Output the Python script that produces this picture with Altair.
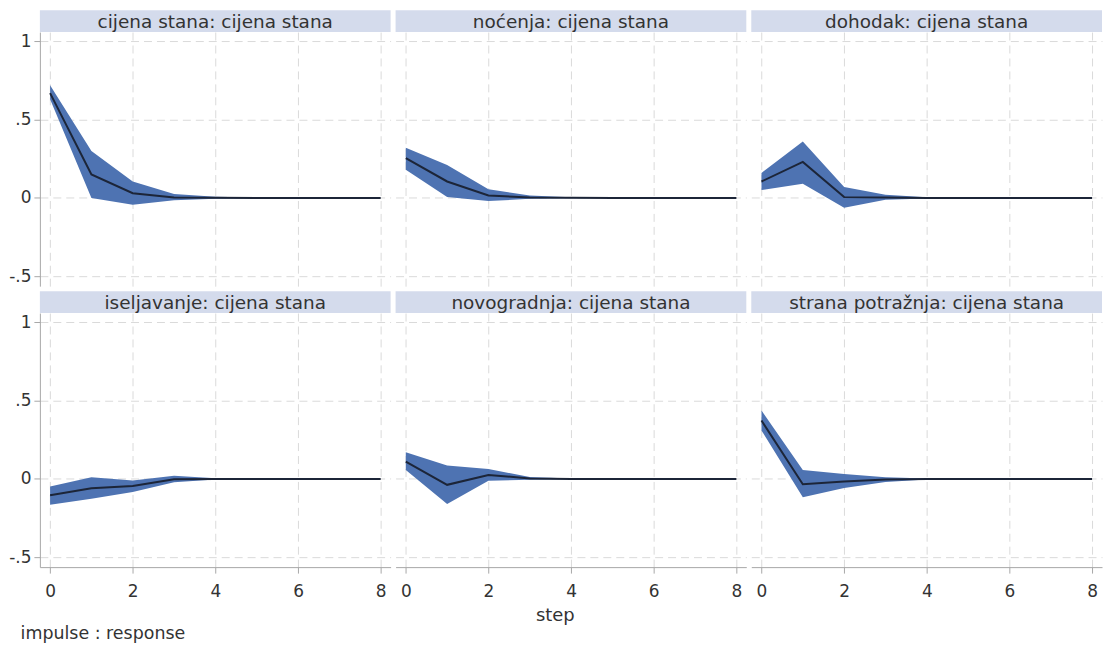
import altair as alt
import pandas as pd

steps = [0, 1, 2, 3, 4, 5, 6, 7, 8]

panels = [
    "cijena stana: cijena stana",
    "noćenja: cijena stana",
    "dohodak: cijena stana",
    "iseljavanje: cijena stana",
    "novogradnja: cijena stana",
    "strana potražnja: cijena stana",
]

irf_1 = [0.67, 0.15, 0.03, 0.003, 0.001, 0.0, 0.0, 0.0, 0.0]
lo_1 = [0.63, 0.0, -0.043, -0.015, -0.006, -0.002, 0.0, 0.0, 0.0]
hi_1 = [0.72, 0.30, 0.105, 0.025, 0.008, 0.003, 0.001, 0.0, 0.0]

irf_2 = [0.255, 0.105, 0.015, 0.003, 0.001, 0.0, 0.0, 0.0, 0.0]
lo_2 = [0.18, 0.006, -0.02, -0.006, -0.002, 0.0, 0.0, 0.0, 0.0]
hi_2 = [0.32, 0.21, 0.055, 0.015, 0.004, 0.001, 0.0, 0.0, 0.0]

irf_3 = [0.105, 0.23, 0.005, 0.002, 0.0, 0.0, 0.0, 0.0, 0.0]
lo_3 = [0.05, 0.09, -0.063, -0.012, -0.003, -0.001, 0.0, 0.0, 0.0]
hi_3 = [0.16, 0.36, 0.07, 0.02, 0.004, 0.001, 0.0, 0.0, 0.0]

irf_4 = [-0.105, -0.06, -0.045, -0.003, 0.0, 0.0, 0.0, 0.0, 0.0]
lo_4 = [-0.165, -0.127, -0.084, -0.022, -0.004, -0.001, 0.0, 0.0, 0.0]
hi_4 = [-0.048, 0.011, -0.01, 0.02, 0.004, 0.001, 0.0, 0.0, 0.0]

irf_5 = [0.11, -0.038, 0.025, 0.003, 0.0, 0.0, 0.0, 0.0, 0.0]
lo_5 = [0.057, -0.16, -0.012, -0.006, -0.002, 0.0, 0.0, 0.0, 0.0]
hi_5 = [0.17, 0.085, 0.063, 0.012, 0.003, 0.001, 0.0, 0.0, 0.0]

irf_6 = [0.373, -0.034, -0.017, -0.004, 0.0, 0.0, 0.0, 0.0, 0.0]
lo_6 = [0.31, -0.118, -0.059, -0.02, -0.004, -0.001, 0.0, 0.0, 0.0]
hi_6 = [0.437, 0.057, 0.032, 0.01, 0.002, 0.0, 0.0, 0.0, 0.0]

y_ticks = [-0.5, 0, 0.5, 1]
x_ticks = [0, 2, 4, 6, 8]

series = [
    (irf_1, lo_1, hi_1), (irf_2, lo_2, hi_2), (irf_3, lo_3, hi_3),
    (irf_4, lo_4, hi_4), (irf_5, lo_5, hi_5), (irf_6, lo_6, hi_6),
]

FONT = "DejaVu Sans"
W, H = 352, 255
STRIP = 22
GRID = "#dadada"
AXC = "#a8a8a8"
TXT = "#333333"

xscale = alt.Scale(domain=[-0.247, 8.24], nice=False, zero=False)
yscale = alt.Scale(domain=[-0.564, 1.06], nice=False, zero=False)


def x_axis(show):
    return alt.Axis(values=x_ticks, title=None, grid=True, gridColor=GRID, gridDash=[8, 5],
                    gridWidth=1, domain=show, ticks=show, labels=show,
                    domainColor=AXC, tickColor=AXC, tickSize=6,
                    labelFont=FONT, labelFontSize=17, labelColor=TXT, labelPadding=10,
                    format="d")


def y_axis(show):
    return alt.Axis(values=y_ticks, title=None, grid=True, gridColor=GRID, gridDash=[8, 5],
                    gridWidth=1, domain=show, ticks=show, labels=show,
                    domainColor=AXC, tickColor=AXC, tickSize=6,
                    labelFont=FONT, labelFontSize=17, labelColor=TXT, labelPadding=3,
                    labelExpr="datum.value == 1 ? '1' : (datum.value == 0 ? '0' : "
                              "(datum.value == 0.5 ? '.5' : '-.5'))")


def panel(i):
    irf, lo, hi = series[i]
    d = pd.DataFrame({"step": steps, "irf": irf, "lo": lo, "hi": hi, "panel": panels[i]})
    show_y = i % 3 == 0
    show_x = i >= 3
    base = alt.Chart(d)
    band = base.mark_area(color="#4e73b2", opacity=1).encode(
        x=alt.X("step:Q", scale=xscale, axis=x_axis(show_x)),
        y=alt.Y("lo:Q", scale=yscale, axis=y_axis(show_y)),
        y2="hi:Q",
    )
    line = base.mark_line(color="#1c2538", strokeWidth=2).encode(
        x="step:Q", y="irf:Q"
    )
    strip = base.mark_rect(color="#d4dbec").encode(
        x=alt.value(0), x2=alt.value(W), y=alt.value(-STRIP), y2=alt.value(0)
    ).transform_filter("datum.step == 0")
    label = base.mark_text(font=FONT, fontSize=18.5, color=TXT, baseline="middle",
                           align="center").encode(
        x=alt.value(W / 2), y=alt.value(-STRIP / 2 + 0.5), text="panel:N"
    ).transform_filter("datum.step == 0")
    return alt.layer(strip, label, band, line).properties(width=W, height=H)


row1 = alt.hconcat(panel(0), panel(1), panel(2), spacing=5)
row2 = alt.hconcat(panel(3), panel(4), panel(5), spacing=5)

grid = alt.vconcat(row1, row2, spacing=5).properties(
    title=alt.Title("step", orient="bottom", anchor="middle", font=FONT, fontSize=18,
                    fontWeight="normal", color=TXT, offset=8)
)

chart = alt.vconcat(grid).properties(
    title=alt.Title("impulse : response", orient="bottom", anchor="start", font=FONT,
                    fontSize=17.5, fontWeight="normal", color=TXT, offset=0, dx=12),
    padding={"left": 0, "top": 1, "right": 2, "bottom": 0},
    background="white",
).configure_view(strokeWidth=0, stroke=None)

chart.save("out.html", embed_options={"renderer": "svg", "actions": False})
